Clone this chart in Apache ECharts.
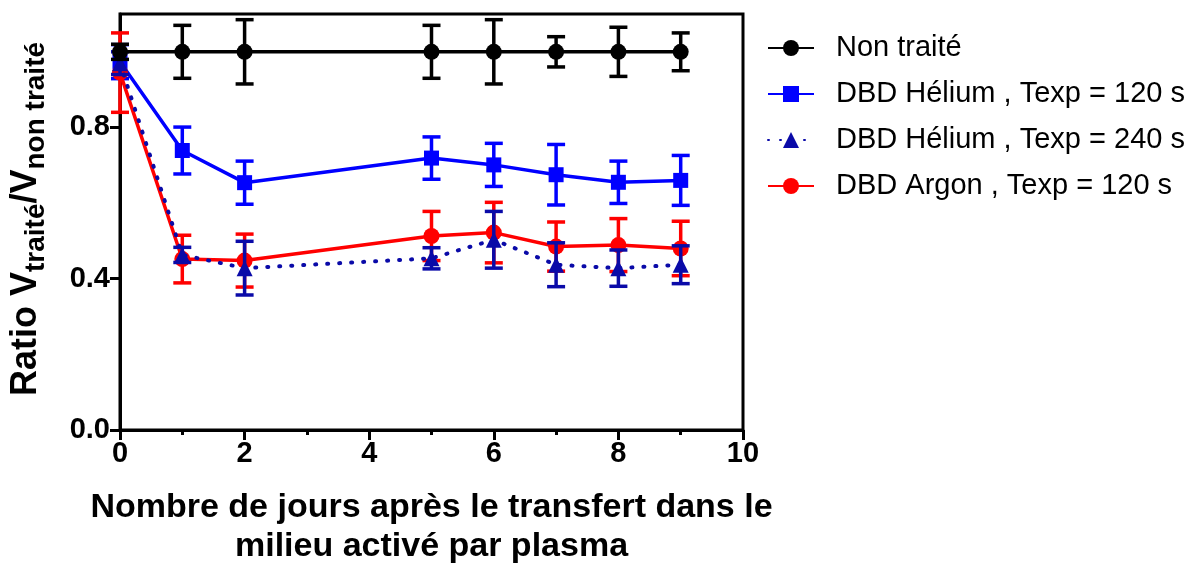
<!DOCTYPE html>
<html>
<head>
    <meta charset="utf-8">
    <title>Ratio V traité / V non traité</title>
    <script src="https://cdn.jsdelivr.net/npm/echarts@6/dist/echarts.min.js"></script>
</head>
<body style="margin:0">
<div id="main" style="width: 1197px;height:570px;"></div>
<script type="text/javascript">
    // jours après transfert
    var days = [0, 1, 2, 5, 6, 7, 8, 9];

    // moyennes et écarts
    var nonTraite = [1, 1, 1, 1, 1, 1, 1, 1];
    var nonTraiteErr = [0.02, 0.07, 0.085, 0.07, 0.085, 0.04, 0.065, 0.05];
    var helium120 = [0.974, 0.739, 0.654, 0.719, 0.701, 0.675, 0.655, 0.660];
    var helium120Err = [0.045, 0.062, 0.057, 0.056, 0.057, 0.08, 0.056, 0.066];
    var helium240 = [0.97, 0.463, 0.428, 0.454, 0.503, 0.437, 0.428, 0.437];
    var helium240Err = [0.03, 0.02, 0.071, 0.028, 0.075, 0.058, 0.048, 0.05];
    var argon120 = [0.945, 0.452, 0.448, 0.513, 0.522, 0.485, 0.489, 0.480];
    var argon120Err = [0.105, 0.063, 0.07, 0.065, 0.08, 0.065, 0.07, 0.072];

    var yTicks = [0, 0.4, 0.8];

    var names = ['Non traité', 'DBD Hélium , Texp = 120 s', 'DBD Hélium , Texp = 240 s', 'DBD Argon , Texp = 120 s'];

    function points(mean) {
        return days.map(function (d, i) { return [d, mean[i]]; });
    }
    function bars(mean, err) {
        return days.map(function (d, i) { return [d, mean[i] - err[i], mean[i] + err[i]]; });
    }
    // barre d'erreur avec chapeaux
    function errorBar(color) {
        return function (params, api) {
            var x = api.value(0);
            var lo = api.coord([x, api.value(1)]);
            var hi = api.coord([x, api.value(2)]);
            var w = 9;
            var st = {stroke: color, lineWidth: 3.5};
            return {
                type: 'group',
                children: [
                    {type: 'line', shape: {x1: hi[0], y1: hi[1], x2: lo[0], y2: lo[1]}, style: st},
                    {type: 'line', shape: {x1: hi[0] - w, y1: hi[1], x2: hi[0] + w, y2: hi[1]}, style: st},
                    {type: 'line', shape: {x1: lo[0] - w, y1: lo[1], x2: lo[0] + w, y2: lo[1]}, style: st}
                ]
            };
        };
    }
    function errSeries(mean, err, color, z) {
        return {
            type: 'custom',
            renderItem: errorBar(color),
            data: bars(mean, err),
            encode: {x: 0, y: [1, 2]},
            z: z,
            silent: true
        };
    }

    var myChart = echarts.init(document.getElementById('main'));

    var option = {
        animation: false,
        textStyle: {fontFamily: 'Liberation Sans, Arial, sans-serif'},
        grid: {
            left: 120, right: 454, top: 14, bottom: 140,
            show: true, borderColor: '#000', borderWidth: 3,
            outerBoundsMode: 'none'
        },
        legend: {
            orient: 'vertical',
            left: 762, top: 27,
            itemWidth: 46, itemHeight: 20,
            itemGap: 14,
            textStyle: {fontSize: 29, color: '#000', lineHeight: 32, padding: [0, 0, 0, 17]},
            data: names
        },
        xAxis: {
            type: 'value',
            min: 0, max: 10, interval: 2,
            name: 'Nombre de jours après le transfert dans le\nmilieu activé par plasma',
            nameLocation: 'middle',
            nameGap: 58,
            nameTextStyle: {fontSize: 34, fontWeight: 'bold', color: '#000', lineHeight: 39, verticalAlign: 'top'},
            axisLine: {lineStyle: {color: '#000', width: 3}},
            axisTick: {length: 10, lineStyle: {width: 3, color: '#000'}},
            minorTick: {show: true, splitNumber: 2, length: 5, lineStyle: {width: 3, color: '#000'}},
            axisLabel: {fontSize: 29, fontWeight: 'bold', color: '#000', margin: 9},
            splitLine: {show: false}
        },
        yAxis: {
            type: 'value',
            min: 0, max: 1.1,
            name: '{m|Ratio V}{s|traité}{m|/V}{s|non traité}',
            nameLocation: 'middle',
            nameGap: 70,
            nameRotate: 90,
            nameTextStyle: {
                color: '#000',
                padding: [0, 0, 0, 6],
                rich: {
                    m: {fontSize: 36, fontWeight: 'bold', color: '#000', lineHeight: 42, verticalAlign: 'top'},
                    s: {fontSize: 28, fontWeight: 'bold', color: '#000', lineHeight: 24, verticalAlign: 'bottom'}
                }
            },
            axisLine: {lineStyle: {color: '#000', width: 3}},
            axisTick: {length: 10, lineStyle: {width: 3, color: '#000'}, customValues: yTicks},
            axisLabel: {
                fontSize: 29, fontWeight: 'bold', color: '#000', margin: 10,
                customValues: yTicks,
                formatter: function (v) { return v.toFixed(1); }
            },
            splitLine: {show: false}
        },
        series: [
            errSeries(helium120, helium120Err, '#0000ff', 2),
            errSeries(argon120, argon120Err, '#ff0000', 3),
            errSeries(helium240, helium240Err, '#0a0aa8', 4),
            errSeries(nonTraite, nonTraiteErr, '#000000', 5),
            {
                name: names[0], type: 'line', data: points(nonTraite), z: 5,
                symbol: 'circle', symbolSize: 16,
                lineStyle: {color: '#000', width: 3.5},
                itemStyle: {color: '#000'}
            },
            {
                name: names[1], type: 'line', data: points(helium120), z: 2,
                symbol: 'rect', symbolSize: 15,
                lineStyle: {color: '#0000ff', width: 3.5},
                itemStyle: {color: '#0000ff'}
            },
            {
                name: names[2], type: 'line', data: points(helium240), z: 4,
                symbol: 'triangle', symbolSize: 16,
                lineStyle: {color: '#0a0aa8', width: 4, type: [1, 11], cap: 'round'},
                itemStyle: {color: '#0a0aa8'}
            },
            {
                name: names[3], type: 'line', data: points(argon120), z: 3,
                symbol: 'circle', symbolSize: 16,
                lineStyle: {color: '#ff0000', width: 3.5},
                itemStyle: {color: '#ff0000'}
            }
        ]
    };

    myChart.setOption(option);
</script>
</body>
</html>
